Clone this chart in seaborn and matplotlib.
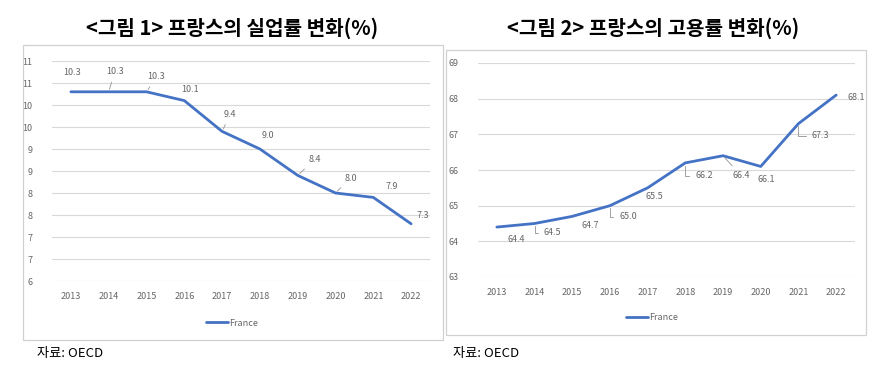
import numpy as np
import pandas as pd
import matplotlib
matplotlib.use('Agg')
import matplotlib.pyplot as plt
from matplotlib.patches import Rectangle
from matplotlib.ticker import MultipleLocator, FuncFormatter
import seaborn as sns

years = ['2013', '2014', '2015', '2016', '2017', '2018', '2019', '2020', '2021', '2022']
unemployment = [10.3, 10.3, 10.3, 10.1, 9.4, 9.0, 8.4, 8.0, 7.9, 7.3]
employment = [64.4, 64.5, 64.7, 65.0, 65.5, 66.2, 66.4, 66.1, 67.3, 68.1]
series_name = 'France'
title_left = '<그림 1> 프랑스의 실업률 변화(%)'
title_right = '<그림 2> 프랑스의 고용률 변화(%)'
source_text = '자료: OECD'

sns.set_style('white')
plt.rcParams['font.family'] = ['Noto Sans CJK KR', 'DejaVu Sans']

W, H = 894, 380
fig = plt.figure(figsize=(W / 100, H / 100), dpi=100)

LINE = '#4472c4'
GRID = '#d9d9d9'
TXT = '#666666'


def px_axes(x0, y0, x1, y1):
    # pixel box (top-left origin) -> figure axes
    return fig.add_axes([x0 / W, 1 - y1 / H, (x1 - x0) / W, (y1 - y0) / H])


def px_box(x0, y0, x1, y1):
    fig.patches.append(Rectangle((x0 / W, 1 - y1 / H), (x1 - x0) / W, (y1 - y0) / H,
                                 transform=fig.transFigure, fill=False,
                                 edgecolor='#d0d0d0', lw=0.9))


def style_axes(ax, lo, hi, step, fmt):
    ax.set_ylim(lo, hi)
    ax.set_xlim(-0.5, len(years) - 0.5)
    ax.yaxis.set_major_locator(MultipleLocator(step))
    ax.yaxis.set_major_formatter(FuncFormatter(fmt))
    ax.grid(axis='y', color=GRID, lw=0.8)
    ax.set_axisbelow(True)
    for s in ax.spines.values():
        s.set_visible(False)
    ax.tick_params(axis='both', length=0, labelsize=6.5, labelcolor=TXT, pad=8)
    ax.tick_params(axis='y', pad=14)
    ax.set_xlabel('')
    ax.set_ylabel('')


def label_points(ax, vals, offsets, leaders):
    for i, v in enumerate(vals):
        dx, dy = offsets[i]
        kw = {}
        if leaders[i]:
            kw['arrowprops'] = dict(arrowstyle='-', color='#a0a0a0', lw=0.7,
                                    shrinkA=2, shrinkB=2,
                                    connectionstyle=leaders[i])
        ax.annotate(f'{v:.1f}', (i, v), xytext=(dx, -dy), textcoords='offset pixels',
                    ha='center', va='center', fontsize=6.5, color=TXT, **kw)


# ---- left panel: unemployment
px_box(23, 45, 443, 340)
ax1 = px_axes(52, 61, 430, 281)
df1 = pd.DataFrame({'year': years, 'value': unemployment})
sns.lineplot(data=df1, x='year', y='value', ax=ax1, color=LINE, lw=2.0,
             label=series_name, solid_joinstyle='round', sort=False)
style_axes(ax1, 6, 11, 0.5, lambda v, p: f'{int(v + 0.5)}')
off1 = [(1, -19), (6, -20), (10, -15), (6, -11), (8, -17), (8, -14),
        (17, -16), (15, -15), (18, -11), (12, -8)]
lead1 = [None, 'arc3', 'arc3', None, 'arc3', None, 'arc3', 'arc3', None, None]
label_points(ax1, unemployment, off1, lead1)
ax1.legend(loc='center', bbox_to_anchor=(232 / W, 1 - 323 / H),
           bbox_transform=fig.transFigure, frameon=False, fontsize=6.5,
           handlelength=2.4, handletextpad=0.1, labelcolor=TXT)

# ---- right panel: employment
px_box(446, 50, 866, 335)
ax2 = px_axes(478, 63, 855, 277)
df2 = pd.DataFrame({'year': years, 'value': employment})
sns.lineplot(data=df2, x='year', y='value', ax=ax2, color=LINE, lw=2.0,
             label=series_name, solid_joinstyle='round', sort=False)
style_axes(ax2, 63, 69, 1, lambda v, p: f'{v:.0f}')
off2 = [(19, 12), (18, 9), (18, 9), (18, 11), (7, 9), (19, 13),
        (18, 20), (5, 13), (22, 12), (20, 2)]
elbow = 'angle,angleA=0,angleB=90,rad=0'
lead2 = [None, elbow, None, elbow, None, elbow, 'arc3', None, elbow, None]
label_points(ax2, employment, off2, lead2)
ax2.legend(loc='center', bbox_to_anchor=(652 / W, 1 - 318 / H),
           bbox_transform=fig.transFigure, frameon=False, fontsize=6.5,
           handlelength=2.4, handletextpad=0.1, labelcolor=TXT)

# titles and sources
fig.text(232 / W, 1 - 28 / H, title_left, ha='center', va='center',
         fontsize=14.5, fontweight='bold', color='black')
fig.text(653 / W, 1 - 28 / H, title_right, ha='center', va='center',
         fontsize=14.5, fontweight='bold', color='black')
fig.text(37 / W, 1 - 354 / H, source_text, ha='left', va='center', fontsize=9.5, color='black')
fig.text(453 / W, 1 - 354 / H, source_text, ha='left', va='center', fontsize=9.5, color='black')

fig.savefig('out.png', dpi=100, facecolor='white')
